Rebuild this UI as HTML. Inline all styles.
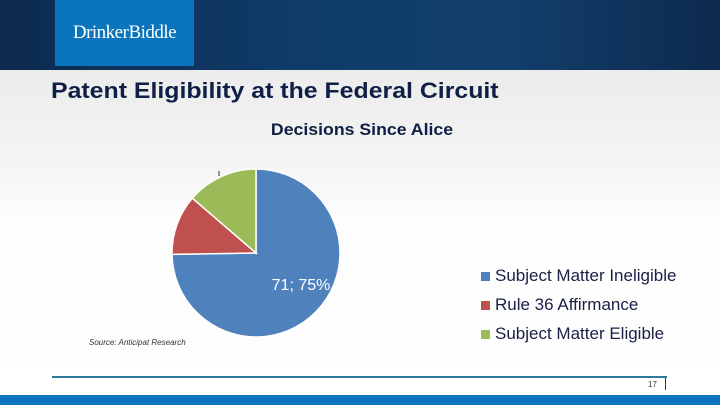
<!DOCTYPE html>
<html><head><meta charset="utf-8"><style>
body{margin:0;width:720px;height:405px;overflow:hidden;background:#f7f7f7;font-family:"Liberation Sans",sans-serif;position:relative}
.abs{position:absolute}
</style></head><body>
<div class="abs" style="left:0;top:0;width:720px;height:70px;background:linear-gradient(90deg,#0d2a4e 0%,#0f3d6b 45%,#123f6c 70%,#0d2a4e 100%)"></div>
<div class="abs" style="left:55px;top:0;width:139px;height:66px;background:#0a74bd;color:#fff;font-family:'Liberation Serif',serif;font-size:19px;line-height:66px;text-align:center;letter-spacing:-0.5px">DrinkerBiddle</div>
<div class="abs" style="left:0;top:70px;width:720px;height:325px;background:linear-gradient(180deg,#ececec 0%,#f5f5f5 30%,#fdfdfd 45%,#fff 100%)"></div>
<div class="abs" style="left:51px;top:78px;font-size:22px;font-weight:bold;color:#0f1f45;white-space:nowrap;transform:scaleX(1.13);transform-origin:0 0">Patent Eligibility at the Federal Circuit</div>
<div class="abs" style="left:212px;top:120px;width:300px;text-align:center;font-size:17px;font-weight:bold;color:#0f1f45;white-space:nowrap;transform:scaleX(1.04)">Decisions Since Alice</div>
<svg class="abs" style="left:0;top:0" width="720" height="405" id="pie"></svg>
<div class="abs" style="left:89px;top:338px;font-size:8px;font-style:italic;color:#333">Source: Anticipat Research</div>
<div class="abs" style="left:481px;top:266px;font-size:17px;color:#1a1f45">
<div style="height:29px;white-space:nowrap"><span style="display:inline-block;width:9px;height:9px;background:#4f81bd;margin-right:5px"></span>Subject Matter Ineligible</div>
<div style="height:29px;white-space:nowrap"><span style="display:inline-block;width:9px;height:9px;background:#c0504d;margin-right:5px"></span>Rule 36 Affirmance</div>
<div style="height:29px;white-space:nowrap"><span style="display:inline-block;width:9px;height:9px;background:#9bbb59;margin-right:5px"></span>Subject Matter Eligible</div>
</div>
<div class="abs" style="left:52px;top:376px;width:615px;height:2px;background:#2e7a9b"></div>
<div class="abs" style="left:648px;top:380px;font-size:8px;color:#333">17</div>
<div class="abs" style="left:665px;top:378px;width:1px;height:12px;background:#333"></div>
<div class="abs" style="left:0;top:395px;width:720px;height:10px;background:#0a74bd"></div>
<script>
const categories=["Subject Matter Ineligible","Rule 36 Affirmance","Subject Matter Eligible"];
const values=[71,11,13];
const colors=["#4f81bd","#c0504d","#9bbb59"];
const svg=document.getElementById('pie');
const cx=256,cy=253,r=84;
const total=values.reduce((a,b)=>a+b,0);
let a0=0;
const pt=a=>[cx+r*Math.sin(a),cy-r*Math.cos(a)];
values.forEach((v,i)=>{
 const a1=a0+v/total*2*Math.PI;
 const [x0,y0]=pt(a0),[x1,y1]=pt(a1);
 const p=document.createElementNS('http://www.w3.org/2000/svg','path');
 p.setAttribute('d',`M${cx},${cy}L${x0},${y0}A${r},${r} 0 ${a1-a0>Math.PI?1:0} 1 ${x1},${y1}Z`);
 p.setAttribute('fill',colors[i]);p.setAttribute('stroke','#fff');p.setAttribute('stroke-width','1.5');
 
 
 svg.appendChild(p);
 a0=a1;
});
const t=document.createElementNS('http://www.w3.org/2000/svg','text');
t.setAttribute('x',301);t.setAttribute('y',290);t.setAttribute('text-anchor','middle');
t.setAttribute('fill','#fff');t.setAttribute('font-size','16');t.setAttribute('font-family','Liberation Sans, sans-serif');
t.textContent=values[0]+'; '+Math.round(values[0]/total*100)+'%';


svg.appendChild(t);
const l=document.createElementNS('http://www.w3.org/2000/svg','line');
l.setAttribute('x1',219);l.setAttribute('y1',171);l.setAttribute('x2',219);l.setAttribute('y2',176);l.setAttribute('stroke','#333');


svg.appendChild(l);
</script>
</body></html>
